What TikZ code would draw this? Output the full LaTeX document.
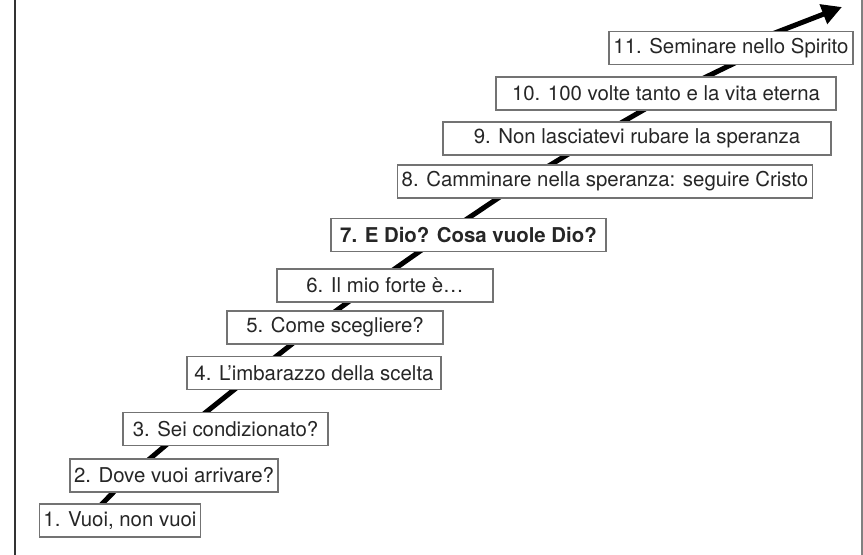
\documentclass[tikz,border=0pt]{standalone}
\usepackage{fontspec}
\setmainfont{TeX Gyre Heros}
\usetikzlibrary{arrows.meta}
\tikzset{st/.style={draw=black!55,line width=0.75pt,fill=white,minimum height=16.5pt,inner sep=2pt,font=\fontsize{10.2}{12}\selectfont,text=black!85},
trail/.style={line width=2.5pt,-{Triangle[length=10pt,width=10pt]}}}
\begin{document}
\begin{tikzpicture}[x=0.5pt,y=-0.5pt]
\useasboundingbox(0,0)rectangle(863,555);
\draw[black!80,line width=1pt](15,0)--(15,555);\draw[black!50,line width=1pt](862,0)--(862,555);
% path of the climb, corners hidden under the boxes
\coordinate(c1)at(91,515);\coordinate(c2)at(130,475.5);\coordinate(c3)at(185,429);\coordinate(c4)at(255,373);
\coordinate(c5)at(313,327.5);\coordinate(c6)at(371,285.5);\coordinate(c7)at(443,235);\coordinate(c8)at(523,181.5);
\coordinate(c9)at(594,138.5);\coordinate(c10)at(672,93.5);\coordinate(c11)at(741,60);\coordinate(c12)at(767,36);\coordinate(top)at(842,7);
\draw[trail](c1)--(c2)--(c3)--(c4)--(c5)--(c6)--(c7)--(c8)--(c9)--(c10)--(c11)--(c12)--(top);
\node[st,minimum width=77pt](s1)at(120,520.5){1. Vuoi, non vuoi};
\node[st,minimum width=104pt](s2)at(174,475.5){2. Dove vuoi arrivare?};
\node[st,minimum width=102.5pt](s3)at(225.5,429){3. Sei condizionato?};
\node[st,minimum width=127pt](s4)at(314,373){4. L’imbarazzo della scelta};
\node[st,minimum width=108pt](s5)at(335,327.5){5. Come scegliere?};
\node[st,minimum width=108pt](s6)at(385,285.5){6. Il mio forte è…};
\node[st,minimum width=137.5pt,font=\fontsize{10.2}{12}\selectfont\bfseries](s7)at(468.5,235){7. E Dio? Cosa vuole Dio?};
\node[st,minimum width=204pt](s8)at(605,181.5){8. Camminare nella speranza: seguire Cristo};
\node[st,minimum width=194pt](s9)at(637,138.5){9. Non lasciatevi rubare la speranza};
\node[st,minimum width=170pt](s10)at(666,93.5){10. 100 volte tanto e la vita eterna};
\node[st,minimum width=122pt](s11)at(731,48){11. Seminare nello Spirito};
\end{tikzpicture}
\end{document}
